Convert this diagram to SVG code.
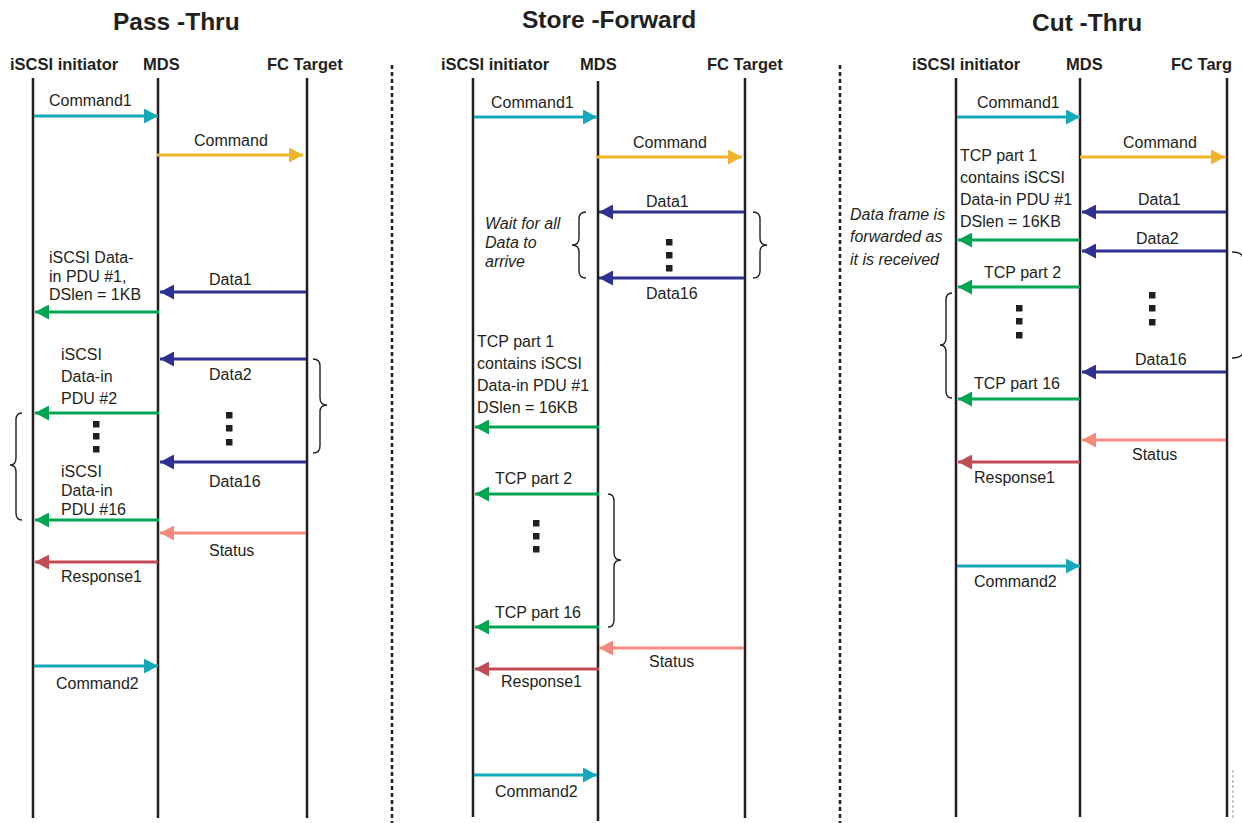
<svg xmlns="http://www.w3.org/2000/svg" width="1242" height="823" viewBox="0 0 1242 823">
<style>
.t{font-family:"Liberation Sans",Arial,Helvetica,sans-serif;font-size:16px;fill:#231f20}
.b{font-weight:bold;font-size:16.5px}
.ti{font-family:"Liberation Sans",Arial,Helvetica,sans-serif;font-weight:bold;font-size:24.5px;fill:#231f20}
.it{font-style:italic}
.life{stroke:#231f20;stroke-width:2.5;fill:none}
.div{stroke:#231f20;stroke-width:2.5;stroke-dasharray:4 3;fill:none}
.br{stroke:#231f20;stroke-width:1.4;fill:none}
.a{stroke-width:3;fill:none}
.teal{stroke:#14a9b8;marker-end:url(#mTeal)}
.yel{stroke:#efb42b;marker-end:url(#mYel)}
.navy{stroke:#2e3192;marker-end:url(#mNavy)}
.grn{stroke:#00a651;marker-end:url(#mGrn)}
.sal{stroke:#f28b7d;marker-end:url(#mSal)}
.red{stroke:#c14b55;marker-end:url(#mRed)}
.dot{fill:#231f20}
</style>
<defs>
<marker id="mTeal" markerUnits="userSpaceOnUse" markerWidth="15" markerHeight="15" refX="14" refY="7.5" orient="auto"><path d="M0,0 L14,7.5 L0,15 Z" fill="#14a9b8"/></marker>
<marker id="mYel" markerUnits="userSpaceOnUse" markerWidth="15" markerHeight="15" refX="14" refY="7.5" orient="auto"><path d="M0,0 L14,7.5 L0,15 Z" fill="#efb42b"/></marker>
<marker id="mNavy" markerUnits="userSpaceOnUse" markerWidth="15" markerHeight="15" refX="14" refY="7.5" orient="auto"><path d="M0,0 L14,7.5 L0,15 Z" fill="#2e3192"/></marker>
<marker id="mGrn" markerUnits="userSpaceOnUse" markerWidth="15" markerHeight="15" refX="14" refY="7.5" orient="auto"><path d="M0,0 L14,7.5 L0,15 Z" fill="#00a651"/></marker>
<marker id="mSal" markerUnits="userSpaceOnUse" markerWidth="15" markerHeight="15" refX="14" refY="7.5" orient="auto"><path d="M0,0 L14,7.5 L0,15 Z" fill="#f28b7d"/></marker>
<marker id="mRed" markerUnits="userSpaceOnUse" markerWidth="15" markerHeight="15" refX="14" refY="7.5" orient="auto"><path d="M0,0 L14,7.5 L0,15 Z" fill="#c14b55"/></marker>
</defs>
<rect width="1242" height="823" fill="#ffffff"/>

<!-- dividers -->
<line class="div" x1="392" y1="65" x2="392" y2="823"/>
<line class="div" x1="840" y1="65" x2="840" y2="823"/>
<line x1="1233" y1="770" x2="1233" y2="818" stroke="#999" stroke-width="1" stroke-dasharray="3 2"/>

<!-- ===== Panel 1: Pass-Thru ===== -->
<g id="panel1">
<text class="ti" x="113" y="30">Pass -Thru</text>
<g id="p1-initiator"><text class="t b" x="10" y="70">iSCSI initiator</text><line class="life" x1="33" y1="78" x2="33" y2="818"/></g>
<g id="p1-mds"><text class="t b" x="143" y="70">MDS</text><line class="life" x1="158" y1="78" x2="158" y2="818"/></g>
<g id="p1-fc"><text class="t b" x="267" y="70">FC Target</text><line class="life" x1="307" y1="78" x2="307" y2="818"/></g>
</g>

<!-- ===== Panel 2: Store-Forward ===== -->
<g id="panel2">
<text class="ti" x="522" y="28">Store -Forward</text>
<g id="p2-initiator"><text class="t b" x="441" y="70">iSCSI initiator</text><line class="life" x1="473" y1="78" x2="473" y2="817"/></g>
<g id="p2-mds"><text class="t b" x="580" y="70">MDS</text><line class="life" x1="598" y1="81" x2="598" y2="821"/></g>
<g id="p2-fc"><text class="t b" x="707" y="70">FC Target</text><line class="life" x1="745" y1="78" x2="745" y2="818"/></g>
</g>

<!-- ===== Panel 3: Cut-Thru ===== -->
<g id="panel3">
<text class="ti" x="1032" y="31">Cut -Thru</text>
<g id="p3-initiator"><text class="t b" x="912" y="70">iSCSI initiator</text><line class="life" x1="956" y1="78" x2="956" y2="817"/></g>
<g id="p3-mds"><text class="t b" x="1066" y="70">MDS</text><line class="life" x1="1080" y1="78" x2="1080" y2="817"/></g>
<g id="p3-fc"><text class="t b" x="1171" y="70">FC Targ</text><line class="life" x1="1227" y1="78" x2="1227" y2="817"/></g>
</g>

<!-- connectors -->
<g id="connectors">
<!-- panel 1 -->
<line class="a teal" x1="34" y1="116" x2="158" y2="116"/>
<line class="a yel" x1="157" y1="155" x2="303" y2="155"/>
<line class="a navy" x1="306" y1="292" x2="160" y2="292"/>
<line class="a grn" x1="159" y1="312" x2="35" y2="312"/>
<line class="a navy" x1="306" y1="359" x2="160" y2="359"/>
<line class="a grn" x1="159" y1="413" x2="35" y2="413"/>
<line class="a navy" x1="306" y1="462" x2="160" y2="462"/>
<line class="a grn" x1="159" y1="520" x2="35" y2="520"/>
<line class="a sal" x1="306" y1="533" x2="160" y2="533"/>
<line class="a red" x1="158" y1="562" x2="35" y2="562"/>
<line class="a teal" x1="34" y1="666" x2="158" y2="666"/>
<!-- panel 2 -->
<line class="a teal" x1="474" y1="117" x2="597" y2="117"/>
<line class="a yel" x1="596" y1="157" x2="742" y2="157"/>
<line class="a navy" x1="744" y1="212" x2="599" y2="212"/>
<line class="a navy" x1="744" y1="278" x2="599" y2="278"/>
<line class="a grn" x1="599" y1="427" x2="475" y2="427"/>
<line class="a grn" x1="599" y1="494" x2="475" y2="494"/>
<line class="a grn" x1="599" y1="627" x2="475" y2="627"/>
<line class="a sal" x1="744" y1="648" x2="599" y2="648"/>
<line class="a red" x1="599" y1="669" x2="475" y2="669"/>
<line class="a teal" x1="474" y1="775" x2="597" y2="775"/>
<!-- panel 3 -->
<line class="a teal" x1="957" y1="117" x2="1080" y2="117"/>
<line class="a yel" x1="1080" y1="157" x2="1225" y2="157"/>
<line class="a navy" x1="1226" y1="212" x2="1082" y2="212"/>
<line class="a grn" x1="1080" y1="240" x2="958" y2="240"/>
<line class="a navy" x1="1226" y1="251" x2="1082" y2="251"/>
<line class="a grn" x1="1080" y1="287" x2="958" y2="287"/>
<line class="a navy" x1="1226" y1="372" x2="1082" y2="372"/>
<line class="a grn" x1="1080" y1="399" x2="958" y2="399"/>
<line class="a sal" x1="1226" y1="440" x2="1082" y2="440"/>
<line class="a red" x1="1080" y1="462" x2="958" y2="462"/>
<line class="a teal" x1="957" y1="566" x2="1080" y2="566"/>
</g>

<!-- labels -->
<g id="labels">
<!-- panel 1 -->
<text class="t" x="49" y="106">Command1</text>
<text class="t" x="194" y="146">Command</text>
<text class="t" x="209" y="285">Data1</text>
<text class="t" x="49" y="263">iSCSI Data-</text>
<text class="t" x="49" y="282">in PDU #1,</text>
<text class="t" x="49" y="300">DSlen = 1KB</text>
<text class="t" x="209" y="380">Data2</text>
<text class="t" x="61" y="360">iSCSI</text>
<text class="t" x="61" y="382">Data-in</text>
<text class="t" x="61" y="404">PDU #2</text>
<text class="t" x="209" y="487">Data16</text>
<text class="t" x="61" y="477">iSCSI</text>
<text class="t" x="61" y="496">Data-in</text>
<text class="t" x="61" y="515">PDU #16</text>
<text class="t" x="209" y="556">Status</text>
<text class="t" x="61" y="582">Response1</text>
<text class="t" x="56" y="689">Command2</text>
<!-- panel 2 -->
<text class="t" x="491" y="108">Command1</text>
<text class="t" x="633" y="148">Command</text>
<text class="t" x="646" y="207">Data1</text>
<text class="t" x="646" y="299">Data16</text>
<text class="t it" x="485" y="229">Wait for all</text>
<text class="t it" x="485" y="248">Data to</text>
<text class="t it" x="485" y="267">arrive</text>
<text class="t" x="477" y="347">TCP part 1</text>
<text class="t" x="477" y="369">contains iSCSI</text>
<text class="t" x="477" y="391">Data-in PDU #1</text>
<text class="t" x="477" y="413">DSlen = 16KB</text>
<text class="t" x="495" y="484">TCP part 2</text>
<text class="t" x="495" y="618">TCP part 16</text>
<text class="t" x="649" y="667">Status</text>
<text class="t" x="501" y="687">Response1</text>
<text class="t" x="495" y="797">Command2</text>
<!-- panel 3 -->
<text class="t" x="977" y="108">Command1</text>
<text class="t" x="1123" y="148">Command</text>
<text class="t" x="960" y="161">TCP part 1</text>
<text class="t" x="960" y="183">contains iSCSI</text>
<text class="t" x="960" y="205">Data-in PDU #1</text>
<text class="t" x="960" y="227">DSlen = 16KB</text>
<text class="t" x="1138" y="205">Data1</text>
<text class="t" x="1136" y="244">Data2</text>
<text class="t it" x="850" y="220">Data frame is</text>
<text class="t it" x="850" y="242">forwarded as</text>
<text class="t it" x="850" y="265">it is received</text>
<text class="t" x="984" y="278">TCP part 2</text>
<text class="t" x="1135" y="365">Data16</text>
<text class="t" x="974" y="389">TCP part 16</text>
<text class="t" x="1132" y="460">Status</text>
<text class="t" x="974" y="483">Response1</text>
<text class="t" x="974" y="587">Command2</text>
</g>

<!-- ellipsis dots -->
<g id="dots">
<rect class="dot" x="93" y="421" width="6.5" height="6.5"/><rect class="dot" x="93" y="433" width="6.5" height="6.5"/><rect class="dot" x="93" y="446" width="6.5" height="6.5"/>
<rect class="dot" x="226" y="412" width="6.5" height="6.5"/><rect class="dot" x="226" y="425" width="6.5" height="6.5"/><rect class="dot" x="226" y="439" width="6.5" height="6.5"/>
<rect class="dot" x="666" y="239" width="6.5" height="6.5"/><rect class="dot" x="666" y="252" width="6.5" height="6.5"/><rect class="dot" x="666" y="265" width="6.5" height="6.5"/>
<rect class="dot" x="533" y="520" width="6.5" height="6.5"/><rect class="dot" x="533" y="533" width="6.5" height="6.5"/><rect class="dot" x="533" y="546" width="6.5" height="6.5"/>
<rect class="dot" x="1016" y="305" width="6.5" height="6.5"/><rect class="dot" x="1016" y="318" width="6.5" height="6.5"/><rect class="dot" x="1016" y="332" width="6.5" height="6.5"/>
<rect class="dot" x="1149" y="292" width="6.5" height="6.5"/><rect class="dot" x="1149" y="305" width="6.5" height="6.5"/><rect class="dot" x="1149" y="319" width="6.5" height="6.5"/>
</g>

<!-- braces -->
<g id="braces">
<path class="br" d="M313,359 Q320,359 320,366 L320,398 Q320,405 327,405 Q320,405 320,412 L320,446 Q320,453 313,453"/>
<path class="br" d="M22,413 Q16,413 16,420 L16,458 Q16,465 10,465 Q16,465 16,472 L16,513 Q16,520 22,520"/>
<path class="br" d="M586,212 Q579,212 579,219 L579,238 Q579,245 572,245 Q579,245 579,252 L579,271 Q579,278 586,278"/>
<path class="br" d="M753,212 Q760,212 760,219 L760,238 Q760,245 767,245 Q760,245 760,252 L760,271 Q760,278 753,278"/>
<path class="br" d="M608,494 Q614,494 614,501 L614,553 Q614,560 621,560 Q614,560 614,567 L614,620 Q614,627 608,627"/>
<path class="br" d="M952,293 Q946,293 946,300 L946,338 Q946,345 940,345 Q946,345 946,352 L946,391 Q946,398 952,398"/>
<path class="br" d="M1232,252 Q1243,252 1243,259 L1243,298 Q1243,305 1250,305 Q1243,305 1243,312 L1243,351 Q1243,358 1232,358"/>
</g>
</svg>
